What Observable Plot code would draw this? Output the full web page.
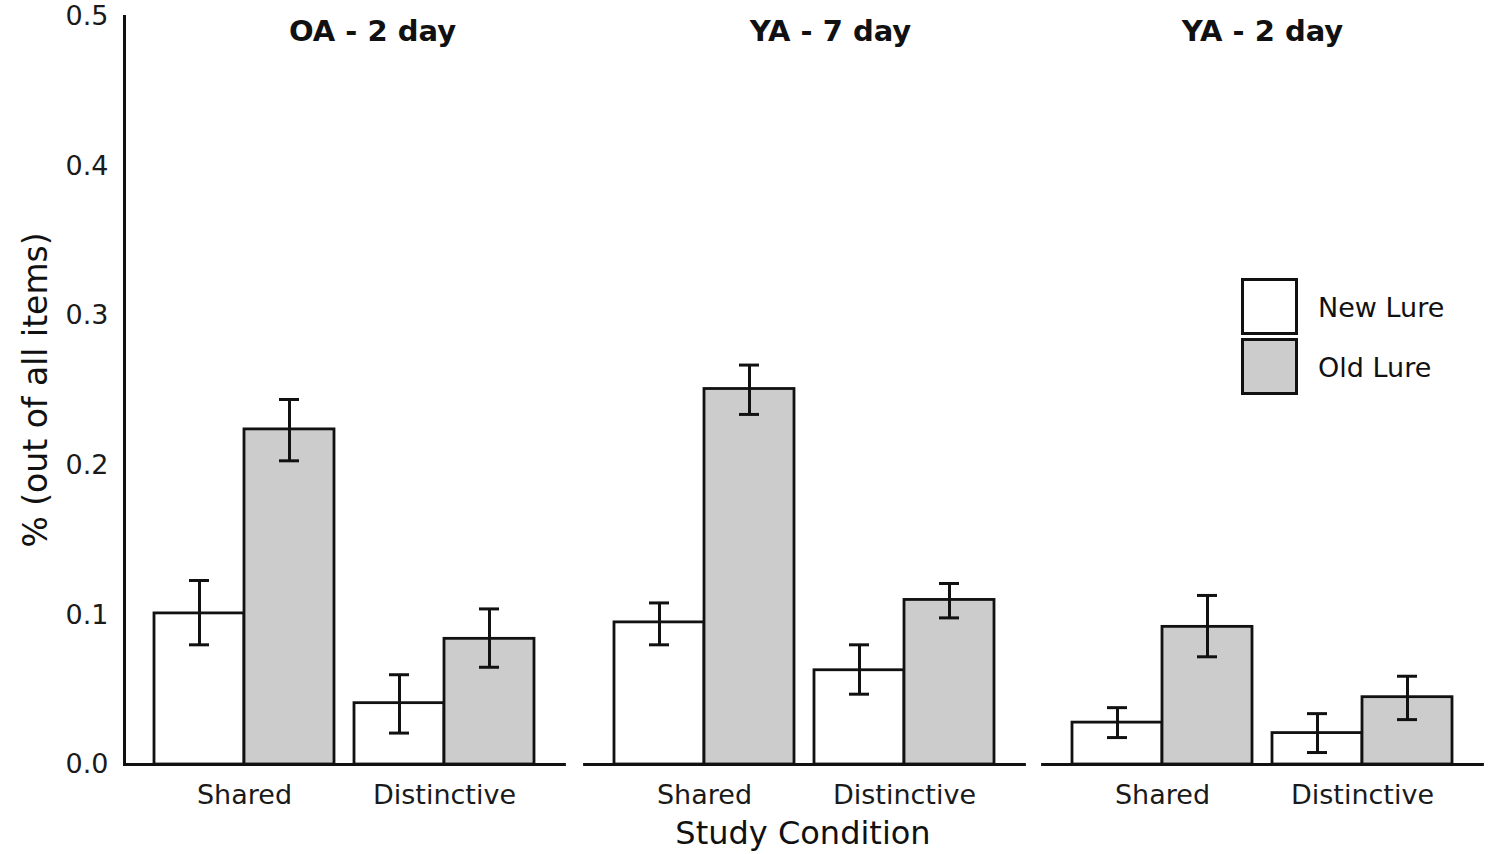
<!DOCTYPE html>
<html>
<head>
<meta charset="utf-8">
<script src="https://cdn.jsdelivr.net/npm/d3@7"></script>
<script src="https://cdn.jsdelivr.net/npm/@observablehq/plot@0.6"></script>
<style>
  html, body { margin: 0; padding: 0; background: #fff; }
  #chart { position: relative; width: 1500px; height: 854px; font-family: "DejaVu Sans", sans-serif; color: #111; }
  #chart svg { position: absolute; top: 0; overflow: visible; }
  .lab { position: absolute; white-space: nowrap; color: #111; }
  .legbox { position: absolute; width: 51px; height: 51px; border: 3px solid #111; }
</style>
</head>
<body>
<div id="chart"></div>
<script>
// ---- data ----
const panels = ["OA - 2 day", "YA - 7 day", "YA - 2 day"];
const conditions = ["Shared", "Distinctive"];
const lures = ["New Lure", "Old Lure"];
const yTicks = [0, 0.1, 0.2, 0.3, 0.4, 0.5];

// values per panel: [Shared, Distinctive]
const newLureMean = [[0.101, 0.041], [0.095, 0.063], [0.028, 0.021]];
const newLureLow  = [[0.080, 0.021], [0.080, 0.047], [0.018, 0.008]];
const newLureHigh = [[0.123, 0.060], [0.108, 0.080], [0.038, 0.034]];
const oldLureMean = [[0.224, 0.084], [0.251, 0.110], [0.092, 0.045]];
const oldLureLow  = [[0.203, 0.065], [0.234, 0.098], [0.072, 0.030]];
const oldLureHigh = [[0.244, 0.104], [0.267, 0.121], [0.113, 0.059]];

const lureFill = {"New Lure": "#ffffff", "Old Lure": "#cccccc"};

// ---- layout ----
const panelLeft = [0, 584, 1042];
const panelW = 440;
const marginLeft0 = 124;
const H = 814, mTop = 16, mBottom = 50;
const padInner = 0.1, padOuter = 0.15;
const bandW = panelW / (conditions.length - padInner + 2 * padOuter) * (1 - padInner);
const half = bandW / 2;
const capHalf = 10;
const titleDx = [28, 26, 0];

const chart = document.getElementById("chart");

panels.forEach((p, i) => {
  const rows = (mean, lo, hi, lure) => conditions.map((c, j) => ({
    panel: p, condition: c, lure, value: mean[i][j], lo: lo[i][j], hi: hi[i][j]
  }));
  const newRows = rows(newLureMean, newLureLow, newLureHigh, "New Lure");
  const oldRows = rows(oldLureMean, oldLureLow, oldLureHigh, "Old Lure");
  const ml = i === 0 ? marginLeft0 : 0;
  const errMarks = (data, dx) => [
    Plot.ruleX(data, {x: "condition", y1: "lo", y2: "hi", dx, stroke: "#111", strokeWidth: 3}),
    Plot.tickY(data, {x: "condition", y: "lo", dx, insetLeft: half - capHalf, insetRight: half - capHalf, stroke: "#111", strokeWidth: 3}),
    Plot.tickY(data, {x: "condition", y: "hi", dx, insetLeft: half - capHalf, insetRight: half - capHalf, stroke: "#111", strokeWidth: 3})
  ];
  const svg = Plot.plot({
    width: ml + panelW,
    height: H,
    marginLeft: ml,
    marginRight: 0,
    marginTop: mTop,
    marginBottom: mBottom,
    style: {fontFamily: "DejaVu Sans, sans-serif", fontSize: "27px", color: "#1a1a1a", background: "transparent"},
    x: {type: "band", domain: conditions, paddingInner: padInner, paddingOuter: padOuter, label: null, tickSize: 0, tickPadding: 20},
    y: {domain: [0, 0.5], label: null, axis: i === 0 ? "left" : null, ticks: yTicks, tickFormat: d => d.toFixed(1), tickSize: 0, tickPadding: 16},
    marks: [
      Plot.barY(newRows, {x: "condition", y: "value", fill: d => lureFill[d.lure], stroke: "#111", strokeWidth: 2.8, insetLeft: 0, insetRight: half}),
      Plot.barY(oldRows, {x: "condition", y: "value", fill: d => lureFill[d.lure], stroke: "#111", strokeWidth: 2.8, insetLeft: half, insetRight: 0}),
      ...errMarks(newRows, -half / 2),
      ...errMarks(oldRows, half / 2),
      Plot.frame({anchor: "bottom", stroke: "#111", strokeWidth: 2.8}),
      ...(i === 0 ? [Plot.frame({anchor: "left", stroke: "#111", strokeWidth: 3})] : []),
      Plot.text([p], {frameAnchor: "top", lineAnchor: "middle", text: d => d, dy: 15, dx: titleDx[i], fontWeight: "bold", fontSize: 29, fill: "#111"})
    ]
  });
  svg.style.left = panelLeft[i] + "px";
  chart.appendChild(svg);
});

// axis titles
const xt = document.createElement("div");
xt.className = "lab";
xt.textContent = "Study Condition";
xt.style.cssText += "font-size:32px;left:803px;top:833px;transform:translate(-50%,-50%);";
chart.appendChild(xt);

const yt = document.createElement("div");
yt.className = "lab";
yt.textContent = "% (out of all items)";
yt.style.cssText += "font-size:33px;left:35px;top:390px;transform:translate(-50%,-50%) rotate(-90deg);";
chart.appendChild(yt);

// legend
lures.forEach((l, k) => {
  const b = document.createElement("div");
  b.className = "legbox";
  b.style.left = "1241px";
  b.style.top = (278 + k * 60) + "px";
  b.style.background = lureFill[l];
  chart.appendChild(b);
  const t = document.createElement("div");
  t.className = "lab";
  t.textContent = l;
  t.style.cssText += "font-size:27px;left:1318px;top:" + (307 + k * 60) + "px;transform:translateY(-50%);";
  chart.appendChild(t);
});
</script>
</body>
</html>
